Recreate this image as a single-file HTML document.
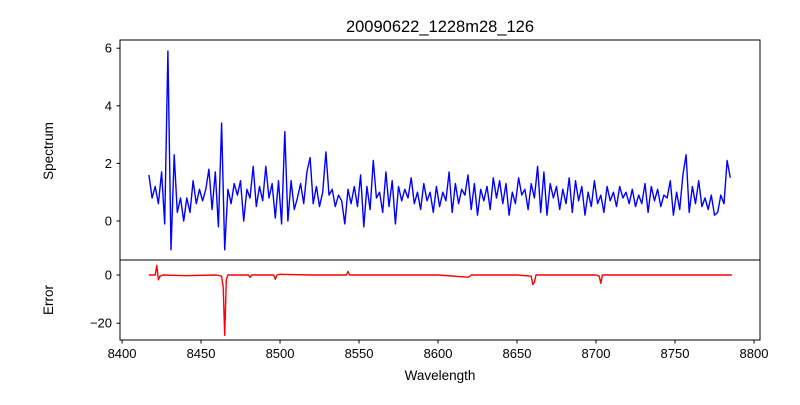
<!DOCTYPE html>
<html><head><meta charset="utf-8"><style>
body{margin:0;background:#fff}
svg{font-family:"Liberation Sans","DejaVu Sans",sans-serif}
</style></head><body>
<svg id="chart" width="800" height="400" xmlns="http://www.w3.org/2000/svg">
<rect width="800" height="400" fill="#fff"/>
<text x="440" y="32" font-size="16.5" text-anchor="middle">20090622_1228m28_126</text>
<g id="gtop"></g><g id="gbot"></g>
<text transform="translate(53,151) rotate(-90)" font-size="13.5" text-anchor="middle">Spectrum</text>
<text transform="translate(53,300) rotate(-90)" font-size="13.5" text-anchor="middle">Error</text>
<text x="440" y="380" font-size="13.5" text-anchor="middle">Wavelength</text>
</svg>
<script>
const specStart = 8417, specStep = 2;
const specValues = [1.6,0.8,1.2,0.6,1.7,-0.1,5.9,-1.0,2.3,0.3,0.8,0.0,0.8,0.3,1.4,0.6,1.1,0.7,1.1,1.8,0.4,1.7,-0.2,3.4,-1.0,1.1,0.6,1.3,0.9,1.4,0.0,1.1,0.8,1.9,0.5,1.2,0.7,1.9,0.8,1.3,0.1,1.4,-0.1,3.1,0.0,1.4,0.4,0.8,1.3,0.6,1.7,2.2,0.6,1.2,0.5,1.0,2.4,0.9,1.1,0.5,0.9,0.7,-0.1,1.1,0.6,1.2,0.5,1.6,-0.2,1.2,0.4,2.1,0.8,1.0,0.3,1.7,0.5,1.4,-0.1,1.2,0.7,1.1,0.8,1.5,0.6,1.0,0.4,1.3,0.7,1.0,0.3,1.2,0.5,1.0,0.7,1.7,0.3,1.3,0.6,1.1,0.9,1.6,0.4,1.3,0.2,1.1,0.7,1.2,0.4,1.5,0.8,1.4,0.6,1.3,0.2,1.0,0.6,1.5,0.9,1.1,0.4,1.3,0.8,1.9,0.3,1.7,0.2,1.3,0.8,1.2,0.4,1.1,0.6,1.5,0.3,1.4,0.7,1.2,0.2,1.0,0.5,1.4,0.6,0.9,0.3,1.2,0.7,1.0,0.5,1.2,0.8,1.0,0.6,1.1,0.5,0.9,0.6,1.3,0.3,1.2,0.7,1.1,0.5,0.9,0.8,1.4,0.2,1.0,0.4,1.6,2.3,0.3,1.2,0.6,1.4,0.5,0.8,0.4,0.9,0.2,0.3,0.9,0.6,2.1,1.5];
const errWl = [8417,8421,8422,8423,8424,8426,8440,8460,8463,8464,8465,8466,8467,8470,8480,8481,8482,8496,8497,8498,8500,8520,8542,8543,8544,8560,8600,8619,8620,8621,8650,8659,8660,8661,8662,8700,8702,8703,8704,8750,8786];
const errValues = [0,0,4,-2,-0.5,0,-0.3,0,-0.5,-5,-25,-2,0,0,0,-1,0,0,-1.8,0,0.3,0,0,1.5,0,0,0,-0.9,-0.6,0,0,-0.5,-4,-3,0,0,-0.5,-3.5,0,0,0];
const xTicks = [8400,8450,8500,8550,8600,8650,8700,8750,8800];
const specTicks = [0,2,4,6];
const errTicks = [0,-20];

const NS="http://www.w3.org/2000/svg";
const L=120,R=760;
const X=w=>L+(w-8398.7)/(8803.8-8398.7)*(R-L);
const Y1=v=>221-v*28.8;
const Y2=v=>275-v*2.41;
function mk(t,a,p){const e=document.createElementNS(NS,t);for(const k in a)e.setAttribute(k,a[k]);p.appendChild(e);return e;}
const gTop=document.getElementById('gtop'), gBot=document.getElementById('gbot');
let d='';
specValues.forEach((v,i)=>{const w=specStart+i*specStep;d+=(i?'L':'M')+X(w).toFixed(1)+','+Y1(v).toFixed(1);});
const sp=mk('path',{d:d,fill:'none',stroke:'#0000ff','stroke-width':1.4,'stroke-linejoin':'round'},gTop);


let d2='';
errValues.forEach((v,i)=>{d2+=(i?'L':'M')+X(errWl[i]).toFixed(1)+','+Y2(v).toFixed(1);});
const ep=mk('path',{d:d2,fill:'none',stroke:'#ff0000','stroke-width':1.4,'stroke-linejoin':'round'},gBot);


const f1=mk('rect',{x:L,y:40,width:R-L,height:220,fill:'none',stroke:'#000','stroke-width':1},gTop);


const f2=mk('rect',{x:L,y:260,width:R-L,height:80,fill:'none',stroke:'#000','stroke-width':1},gBot);


specTicks.forEach(t=>{const y=Y1(t);mk('line',{x1:L-3.5,x2:L,y1:y,y2:y,stroke:'#000'},gTop);
 const tx=mk('text',{x:L-8,y:y+4.5,'font-size':13,'text-anchor':'end'},gTop);tx.textContent=t;
 
 });
errTicks.forEach(t=>{const y=Y2(t);mk('line',{x1:L-3.5,x2:L,y1:y,y2:y,stroke:'#000'},gBot);
 const tx=mk('text',{x:L-8,y:y+4.5,'font-size':13,'text-anchor':'end'},gBot);tx.textContent=t<0?'\u2212'+(-t):t;
 
 });
xTicks.forEach(t=>{const x=X(t);mk('line',{x1:x,x2:x,y1:340,y2:343.5,stroke:'#000'},gBot);
 const tx=mk('text',{x:x,y:358,'font-size':13,'text-anchor':'middle'},gBot);tx.textContent=t;
 
 });
</script>
</body></html>
